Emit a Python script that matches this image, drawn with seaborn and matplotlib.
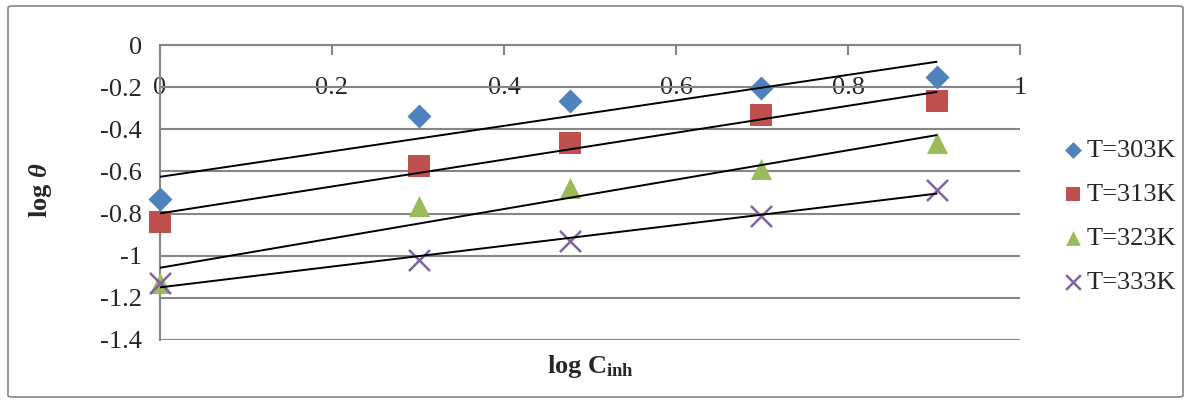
import numpy as np
import pandas as pd
import matplotlib
matplotlib.use("Agg")
import matplotlib.pyplot as plt
import seaborn as sns
from matplotlib.patches import FancyBboxPatch

# log C_inh values
log_c = [0, 0.301, 0.477, 0.699, 0.903]
temps = ["T=303K", "T=313K", "T=323K", "T=333K"]
t303 = [-0.73, -0.337, -0.266, -0.204, -0.152]
t313 = [-0.84, -0.574, -0.465, -0.332, -0.266]
t323 = [-1.13, -0.764, -0.679, -0.589, -0.465]
t333 = [-1.13, -1.02, -0.93, -0.81, -0.688]

colors = ["#4F81BD", "#C0504D", "#9BBB59", "#8064A2"]
markers = ["D", "s", "^", "x"]
sizes = [150, 230, 230, 230]

df = pd.DataFrame({
    "x": log_c * 4,
    "y": t303 + t313 + t323 + t333,
    "T": np.repeat(temps, len(log_c)),
})

sns.set_style("white")
plt.rcParams["font.family"] = ["Liberation Serif", "DejaVu Serif"]
plt.rcParams["mathtext.fontset"] = "custom"
plt.rcParams["mathtext.rm"] = "Liberation Serif"
plt.rcParams["mathtext.it"] = "Liberation Serif:italic"
plt.rcParams["mathtext.bf"] = "Liberation Serif:bold"
plt.rcParams["mathtext.bfit"] = "Liberation Serif:italic:bold"

fs = 19

fig = plt.figure(figsize=(11.91, 4.03), dpi=100)
ax = fig.add_axes([160 / 1191, 1 - 340 / 403, 860 / 1191, 295 / 403])

for i, t in enumerate(temps):
    sub = df[df["T"] == t]
    sns.scatterplot(data=sub, x="x", y="y", marker=markers[i], color=colors[i],
                    s=sizes[i], linewidth=0 if markers[i] != "x" else 1.8,
                    ax=ax, label=t, zorder=3, clip_on=False)
    # linear trendline
    k, b = np.polyfit(sub["x"], sub["y"], 1)
    xx = np.array([log_c[0], log_c[-1]])
    ax.plot(xx, k * xx + b, color="black", lw=1.4, zorder=4)

ax.set_xlim(0, 1)
ax.set_ylim(-1.4, 0)
ax.set_yticks(np.arange(-1.4, 0.01, 0.2))
ax.set_yticklabels(["-1.4", "-1.2", "-1", "-0.8", "-0.6", "-0.4", "-0.2", "0"])
ax.set_xticks([0, 0.2, 0.4, 0.6, 0.8, 1])
ax.set_xticklabels(["0", "0.2", "0.4", "0.6", "0.8", "1"])
ax.xaxis.tick_top()
ax.tick_params(axis="x", direction="in", length=7, width=1.5, color="#868686",
               labelsize=fs, pad=-31)
ax.tick_params(axis="y", direction="out", length=5, width=1.5, color="#868686",
               labelsize=fs, pad=8)
for lab in ax.get_xticklabels():
    lab.set_verticalalignment("center")

ax.grid(axis="y", color="#868686", lw=1.5)
ax.grid(axis="x", visible=False)
for s in ["right", "bottom"]:
    ax.spines[s].set_visible(False)
for s in ["left", "top"]:
    ax.spines[s].set_color("#868686")
    ax.spines[s].set_linewidth(1.5)
ax.set_axisbelow(True)

ax.set_xlabel("")
ax.set_ylabel("")
fig.text(590 / 1191, 1 - 366 / 403, r"$\mathbf{log\ C_{inh}}$", fontsize=fs,
         ha="center", va="center")
fig.text(40 / 1191, 1 - 190 / 403, r"$\mathbf{log}\ \boldsymbol{\theta}$",
         fontsize=fs, rotation=90, ha="center", va="center")

leg = ax.legend(loc="center left", bbox_to_anchor=(1.034, 0.42), frameon=False,
                fontsize=fs, handletextpad=0.0, labelspacing=0.78,
                borderaxespad=0, markerscale=0.7, handlelength=1.0)

border = FancyBboxPatch((8 / 1191, 6 / 403), 1175 / 1191, 391 / 403,
                        boxstyle="round,pad=0,rounding_size=0.004",
                        transform=fig.transFigure, fill=False,
                        edgecolor="#868686", lw=1.2)
fig.patches.append(border)

fig.savefig("out.png", dpi=100)
